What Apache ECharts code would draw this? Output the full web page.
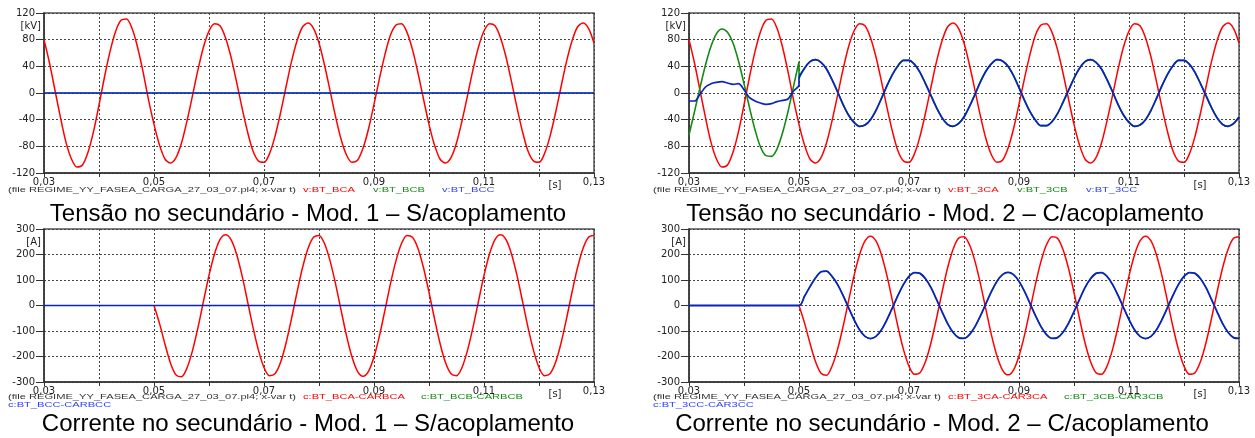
<!DOCTYPE html>
<html>
<head>
    <meta charset="utf-8">
    <title>Tensão e corrente no secundário</title>
    <script src="https://cdn.jsdelivr.net/npm/echarts@6/dist/echarts.min.js"></script>
    <style>html, body { margin: 0; padding: 0; background: #fff; }</style>
</head>
<body>
<div id="main" style="width: 1255px;height:438px;"></div>
<script type="text/javascript">

    // tempo (s), passo de 1 ms
    const T = [0.030, 0.031, 0.032, 0.033, 0.034, 0.035, 0.036, 0.037, 0.038, 0.039,
        0.040, 0.041, 0.042, 0.043, 0.044, 0.045, 0.046, 0.047, 0.048, 0.049,
        0.050, 0.051, 0.052, 0.053, 0.054, 0.055, 0.056, 0.057, 0.058, 0.059,
        0.060, 0.061, 0.062, 0.063, 0.064, 0.065, 0.066, 0.067, 0.068, 0.069,
        0.070, 0.071, 0.072, 0.073, 0.074, 0.075, 0.076, 0.077, 0.078, 0.079,
        0.080, 0.081, 0.082, 0.083, 0.084, 0.085, 0.086, 0.087, 0.088, 0.089,
        0.090, 0.091, 0.092, 0.093, 0.094, 0.095, 0.096, 0.097, 0.098, 0.099,
        0.100, 0.101, 0.102, 0.103, 0.104, 0.105, 0.106, 0.107, 0.108, 0.109,
        0.110, 0.111, 0.112, 0.113, 0.114, 0.115, 0.116, 0.117, 0.118, 0.119,
        0.120, 0.121, 0.122, 0.123, 0.124, 0.125, 0.126, 0.127, 0.128, 0.129,
        0.130];
    const T_PRE = T.slice(0, 21);   // 0,030 .. 0,050
    const T_POST = T.slice(20);     // 0,050 .. 0,130
    const T_ENDS = [0.03, 0.13];
    const FLAT = [0, 0];

    // tensão fase A (kV) - igual nos dois modelos
    const vRed = [80, 45, 4, -37, -74, -99, -111, -108, -89, -58,
        -18, 24, 62, 92, 109, 111, 97, 69, 32, -10,
        -47, -78, -99, -105, -97, -75, -42, -4, 35, 69,
        93, 104, 101, 83, 54, 17, -22, -58, -87, -102,
        -104, -91, -65, -30, 9, 47, 78, 99, 105, 97,
        75, 42, 4, -35, -69, -93, -104, -101, -83, -54,
        -17, 22, 58, 87, 102, 104, 91, 65, 30, -9,
        -47, -78, -99, -105, -97, -75, -42, -4, 35, 69,
        93, 104, 101, 83, 54, 17, -22, -58, -87, -102,
        -104, -91, -65, -30, 9, 47, 78, 99, 105, 97,
        75];

    // Mod. 2: fases B e C antes do acoplamento (0,030 .. 0,050)
    const vGreenPre = [-63, -28, 8, 42, 70, 89, 96, 91, 75, 48,
        14, -22, -55, -81, -94, -95, -84, -60, -28, 10, 47];
    const vBluePre = [-12, -12, -2, 9, 14, 16, 17, 15, 13, 14,
        5, -7, -12, -15, -17, -16, -13, -11, -9, 3, 12];
    // Mod. 2: fases B = C depois de 0,050
    const vBluePost = [22, 37, 47, 50, 46, 36, 20, 2, -17, -33,
        -44, -50, -48, -40, -26, -8, 11, 28, 41, 49,
        49, 43, 31, 14, -4, -22, -37, -47, -50, -46,
        -36, -20, -2, 17, 33, 44, 50, 48, 40, 26,
        8, -11, -28, -41, -49, -49, -43, -31, -14, 4,
        22, 37, 47, 50, 46, 36, 20, 2, -17, -33,
        -44, -50, -48, -40, -26, -8, 11, 28, 41, 49,
        49, 43, 31, 14, -4, -22, -37, -47, -50, -46,
        -36];

    // correntes (A) a partir de 0,050 (antes disso todas são zero)
    const iRed1 = [0, -70, -152, -226, -272, -279, -245, -177, -86, 17,
        118, 202, 258, 277, 258, 202, 118, 17, -86, -176,
        -243, -275, -268, -224, -148, -52, 52, 148, 224, 268,
        275, 243, 176, 86, -17, -118, -202, -258, -277, -258,
        -202, -118, -17, 86, 176, 243, 275, 268, 224, 148,
        52, -52, -148, -224, -268, -275, -243, -176, -86, 17,
        118, 202, 258, 277, 258, 202, 118, 17, -86, -176,
        -243, -275, -268, -224, -148, -52, 52, 148, 224, 268,
        275];
    const iRed2 = [0, -68, -148, -220, -266, -274, -238, -173, -84, 17,
        116, 198, 253, 272, 253, 198, 116, 17, -84, -173,
        -238, -270, -264, -220, -146, -51, 51, 146, 220, 264,
        270, 238, 173, 84, -17, -116, -198, -253, -272, -253,
        -198, -116, -17, 84, 173, 238, 270, 264, 220, 146,
        51, -51, -146, -220, -264, -270, -238, -173, -84, 17,
        116, 198, 253, 272, 253, 198, 116, 17, -84, -173,
        -238, -270, -264, -220, -146, -51, 51, 146, 220, 264,
        270];
    const iBlue2 = [0, 36, 74, 108, 132, 135, 114, 83, 40, -8,
        -55, -95, -121, -130, -121, -95, -55, -8, 40, 83,
        114, 129, 126, 105, 70, 24, -24, -70, -105, -126,
        -129, -114, -83, -40, 8, 55, 95, 121, 130, 121,
        95, 55, 8, -40, -83, -114, -129, -126, -105, -70,
        -24, 24, 70, 105, 126, 129, 114, 83, 40, -8,
        -55, -95, -121, -130, -121, -95, -55, -8, 40, 83,
        114, 129, 126, 105, 70, 24, -24, -70, -105, -126,
        -129];
    const T_OFF = [0.03, 0.05];   // trecho antes do fechamento da carga
    const OFF = [0, 0];

    const X_TICKS_NOTE = '[s]';
    const FILE_TXT = '(file REGIME_YY_FASEA_CARGA_27_03_07.pl4; x-var t)';
    const TITLES = ['Tensão no secundário - Mod. 1 – S/acoplamento',
        'Tensão no secundário - Mod. 2 – C/acoplamento',
        'Corrente no secundário - Mod. 1 – S/acoplamento',
        'Corrente no secundário - Mod. 2 – C/acoplamento'];

    const RED = '#ff0000', GREEN = '#138a13', BLUE = '#0a22c0';
    const AXIS_FONT = 'DejaVu Sans';

    function pts(ts, vs) {
        return ts.map(function (t, i) { return [t, vs[i]]; });
    }

    function fmtX(v) {
        const k = Math.round(v * 100);
        return k % 2 === 1 ? (k / 100).toFixed(2).replace('.', ',') : '';
    }

    function xAxis(gi) {
        return {
            gridIndex: gi, type: 'value', min: 0.03, max: 0.13, interval: 0.01,
            axisLine: { onZero: false, lineStyle: { color: '#333', width: 1.5 } },
            axisTick: { length: 4, lineStyle: { color: '#333' } },
            axisLabel: { margin: 4, fontFamily: AXIS_FONT, fontSize: 10, color: '#222', formatter: fmtX },
            splitLine: { lineStyle: { color: '#444', type: [2, 2], width: 1 } },
            name: X_TICKS_NOTE, nameLocation: 'end', nameGap: -39,
            nameTextStyle: { fontFamily: AXIS_FONT, fontSize: 10, color: '#222', align: 'center', verticalAlign: 'top', padding: [7, 0, 0, 0] }
        };
    }

    function yAxis(gi, lim, step, unit) {
        return {
            gridIndex: gi, type: 'value', min: -lim, max: lim, interval: step,
            axisLine: { show: true, onZero: false, lineStyle: { color: '#333', width: 1.5 } },
            axisTick: { show: true, length: 8, lineStyle: { color: '#333' } },
            axisLabel: { margin: 9, fontFamily: AXIS_FONT, fontSize: 10, color: '#222' },
            splitLine: { lineStyle: { color: '#444', type: [2, 2], width: 1 } },
            name: unit, nameLocation: 'end', nameGap: -13,
            nameTextStyle: { fontFamily: AXIS_FONT, fontSize: 10, color: '#222', align: 'right', verticalAlign: 'middle', padding: [0, 3, 0, 0] }
        };
    }

    // z: vermelho por baixo, azul por cima (como no gráfico original)
    function line(gi, color, width, data, z) {
        return {
            type: 'line', xAxisIndex: gi, yAxisIndex: gi, data: data, z: z,
            showSymbol: false, smooth: 0.3, animation: false, silent: true,
            lineStyle: { color: color, width: width }
        };
    }

    function txt(x, y, text, color) {
        return {
            type: 'text', x: x, y: y, scaleX: 1.39, silent: true,
            style: { text: text, fill: color, font: '8px "Liberation Sans"', verticalAlign: 'middle', textVerticalAlign: 'middle' }
        };
    }

    function title(x, y, text) {
        return {
            type: 'text', x: x, y: y, silent: true,
            style: { text: text, fill: '#000', font: '24px "Liberation Sans"', align: 'center', textAlign: 'center', verticalAlign: 'middle', textVerticalAlign: 'middle' }
        };
    }

    const gridBase = { show: true, borderColor: '#555', borderWidth: 1.5, containLabel: false, outerBoundsMode: 'none' };

    option = {
        animation: false,
        backgroundColor: '#fff',
        grid: [
            Object.assign({ left: 44, top: 13, width: 550, height: 160 }, gridBase),
            Object.assign({ left: 689, top: 13, width: 550, height: 160 }, gridBase),
            Object.assign({ left: 44, top: 229, width: 550, height: 153 }, gridBase),
            Object.assign({ left: 689, top: 229, width: 550, height: 153 }, gridBase)
        ],
        xAxis: [xAxis(0), xAxis(1), xAxis(2), xAxis(3)],
        yAxis: [yAxis(0, 120, 40, '[kV]'), yAxis(1, 120, 40, '[kV]'),
            yAxis(2, 300, 100, '[A]'), yAxis(3, 300, 100, '[A]')],
        series: [
            // Mod. 1 tensão
            line(0, RED, 1.5, pts(T, vRed), 2),
            line(0, GREEN, 0.8, pts(T_ENDS, FLAT), 3),
            line(0, BLUE, 1.7, pts(T_ENDS, FLAT), 4),
            // Mod. 2 tensão
            line(1, RED, 1.5, pts(T, vRed), 2),
            line(1, GREEN, 1.6, pts(T_PRE, vGreenPre).concat(pts(T_POST, vBluePost)), 3),
            line(1, BLUE, 1.7, pts(T_PRE, vBluePre).concat(pts(T_POST, vBluePost)), 4),
            // Mod. 1 corrente
            line(2, RED, 1.5, pts(T_POST, iRed1), 2),
            line(2, GREEN, 0.8, pts(T_ENDS, FLAT), 3),
            line(2, BLUE, 1.7, pts(T_ENDS, FLAT), 4),
            // Mod. 2 corrente
            line(3, RED, 1.5, pts(T_POST, iRed2), 2),
            line(3, GREEN, 1.2, pts(T_OFF, OFF).concat(pts(T_POST, iBlue2)), 3),
            line(3, BLUE, 1.8, pts(T_OFF, OFF).concat(pts(T_POST, iBlue2)), 4)
        ],
        graphic: [
            txt(8, 190, FILE_TXT, '#333'),
            txt(303, 190, 'v:BT_BCA', RED),
            txt(373, 190, 'v:BT_BCB', GREEN),
            txt(442, 190, 'v:BT_BCC', '#3040ff'),
            txt(653, 190, FILE_TXT, '#333'),
            txt(948, 190, 'v:BT_3CA', RED),
            txt(1017, 190, 'v:BT_3CB', GREEN),
            txt(1086, 190, 'v:BT_3CC', '#3040ff'),
            txt(8, 397, FILE_TXT, '#333'),
            txt(303, 397, 'c:BT_BCA-CARBCA', RED),
            txt(421, 397, 'c:BT_BCB-CARBCB', GREEN),
            txt(8, 404.5, 'c:BT_BCC-CARBCC', '#3040ff'),
            txt(653, 397, FILE_TXT, '#333'),
            txt(948, 397, 'c:BT_3CA-CAR3CA', RED),
            txt(1064, 397, 'c:BT_3CB-CAR3CB', GREEN),
            txt(653, 404.5, 'c:BT_3CC-CAR3CC', '#3040ff'),
            title(308, 214, TITLES[0]),
            title(945, 214, TITLES[1]),
            title(308, 424, TITLES[2]),
            title(942, 424, TITLES[3])
        ]
    };

    let myChart = echarts.init(document.getElementById('main'));
    myChart.setOption(option);
</script>
</body>
</html>
